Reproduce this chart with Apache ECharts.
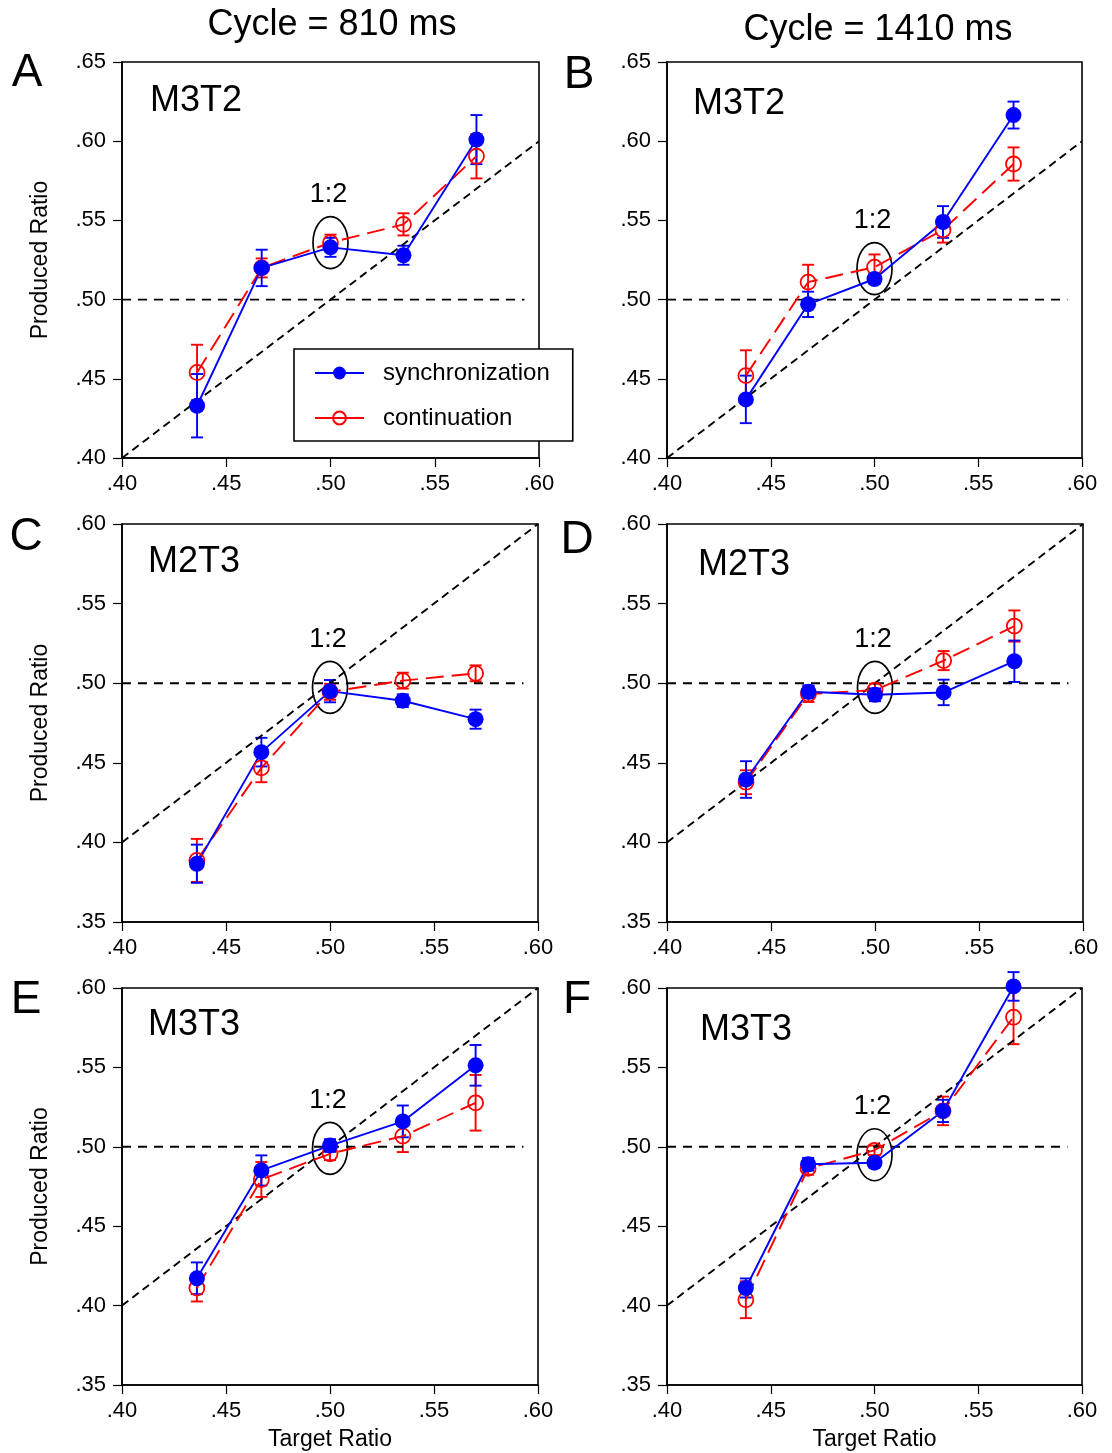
<!DOCTYPE html>
<html><head><meta charset="utf-8">
<script src="https://cdn.jsdelivr.net/npm/echarts@6/dist/echarts.min.js"></script>
<style>html,body{margin:0;padding:0;background:#fff}#c{width:1112px;height:1453px}</style>
</head><body><div id="c"></div>
<script>
const FONT = '"Liberation Sans", Arial, Helvetica, sans-serif';

// ---- data ----
const targetCol1 = [0.436, 0.467, 0.500, 0.535, 0.570];   // Cycle = 810 ms
const targetCol2 = [0.438, 0.468, 0.500, 0.533, 0.567];   // Cycle = 1410 ms
const columnTitles = ['Cycle = 810 ms', 'Cycle = 1410 ms'];
const panelLetters = ['A', 'B', 'C', 'D', 'E', 'F'];
const panelNames = ['M3T2', 'M3T2', 'M2T3', 'M2T3', 'M3T3', 'M3T3'];
const xTicks = [0.40, 0.45, 0.50, 0.55, 0.60];
const yRangeRow1 = [0.40, 0.65];
const yRangeRow23 = [0.35, 0.60];

const syncA = [0.433, 0.520, 0.533, 0.528, 0.601];
const syncAErr = [0.020, 0.0115, 0.006, 0.006, 0.0155];
const contA = [0.454, 0.520, 0.536, 0.5475, 0.5905];
const contAErr = [0.0175, 0.006, 0.005, 0.007, 0.014];

const syncB = [0.437, 0.497, 0.513, 0.549, 0.6165];
const syncBErr = [0.015, 0.008, 0.003, 0.010, 0.0085];
const contB = [0.452, 0.511, 0.5205, 0.544, 0.5856];
const contBErr = [0.016, 0.011, 0.008, 0.008, 0.0105];

const syncC = [0.3866, 0.4567, 0.495, 0.489, 0.4774];
const syncCErr = [0.012, 0.009, 0.007, 0.004, 0.006];
const contC = [0.3887, 0.4468, 0.4946, 0.5016, 0.5062];
const contCErr = [0.0135, 0.009, 0.005, 0.005, 0.005];

const syncD = [0.4395, 0.4946, 0.4927, 0.4942, 0.5138];
const syncDErr = [0.0115, 0.004, 0.004, 0.008, 0.013];
const contD = [0.4378, 0.4932, 0.4957, 0.5142, 0.5359];
const contDErr = [0.0075, 0.005, 0.004, 0.006, 0.0098];

const syncE = [0.4172, 0.4851, 0.5008, 0.516, 0.5513];
const syncEErr = [0.010, 0.0095, 0.004, 0.010, 0.0128];
const contE = [0.4111, 0.4794, 0.4956, 0.5067, 0.5277];
const contEErr = [0.0085, 0.011, 0.004, 0.010, 0.0175];

const syncF = [0.4111, 0.489, 0.490, 0.5226, 0.601];
const syncFErr = [0.006, 0.004, 0.003, 0.007, 0.009];
const contF = [0.4037, 0.4864, 0.4978, 0.5226, 0.5816];
const contFErr = [0.0116, 0.004, 0.003, 0.009, 0.017];

const oneToTwoY = [0.536, 0.5195, 0.4974, 0.4974, 0.499, 0.495]; // centre of "1:2" ellipse
const identityLine = [0.40, 0.60];
const chanceLevel = 0.50;
const chanceLineEnd = 0.593;

// ---- layout ----
const panels = [
  {x: targetCol1, s: syncA, se: syncAErr, c: contA, ce: contAErr, yr: yRangeRow1},
  {x: targetCol2, s: syncB, se: syncBErr, c: contB, ce: contBErr, yr: yRangeRow1},
  {x: targetCol1, s: syncC, se: syncCErr, c: contC, ce: contCErr, yr: yRangeRow23},
  {x: targetCol2, s: syncD, se: syncDErr, c: contD, ce: contDErr, yr: yRangeRow23},
  {x: targetCol1, s: syncE, se: syncEErr, c: contE, ce: contEErr, yr: yRangeRow23},
  {x: targetCol2, s: syncF, se: syncFErr, c: contF, ce: contFErr, yr: yRangeRow23}
];
const gridBoxes = [
  {left: 122, top: 62, width: 417, height: 396},
  {left: 667, top: 62, width: 415, height: 396},
  {left: 122, top: 524, width: 416, height: 398},
  {left: 667, top: 524, width: 416, height: 398},
  {left: 122, top: 988, width: 416, height: 397},
  {left: 667, top: 988, width: 415, height: 397}
];
const letterPos = [[27, 73], [579, 75], [26, 537], [577, 540], [26, 1000], [577, 1000]];
const namePos = [[150, 101], [693, 104], [148, 562], [698, 565], [148, 1025], [700, 1030]];
const titlePos = [[332, 25], [878, 30]];

const fmt = v => v.toFixed(2).replace(/^0/, '');

const grids = [], xAxes = [], yAxes = [], series = [], graphics = [];

function errRender(color) {
  return function (params, api) {
    const x = api.value(0), lo = api.value(1), hi = api.value(2);
    const p1 = api.coord([x, lo]), p2 = api.coord([x, hi]);
    const w = 6;
    const st = {stroke: color, lineWidth: 1.9};
    return {type: 'group', children: [
      {type: 'line', shape: {x1: p1[0], y1: p1[1], x2: p2[0], y2: p2[1]}, style: st},
      {type: 'line', shape: {x1: p1[0] - w, y1: p1[1], x2: p1[0] + w, y2: p1[1]}, style: st},
      {type: 'line', shape: {x1: p2[0] - w, y1: p2[1], x2: p2[0] + w, y2: p2[1]}, style: st}
    ]};
  };
}

panels.forEach((p, i) => {
  grids.push(Object.assign({show: true, borderColor: '#000', borderWidth: 1.6, backgroundColor: '#fff'}, gridBoxes[i]));
  xAxes.push({
    type: 'value', gridIndex: i, min: 0.40, max: 0.60, interval: 0.05,
    axisLine: {show: true, lineStyle: {color: '#000', width: 1.6}},
    axisTick: {show: true, length: 9, lineStyle: {color: '#000', width: 1.2}},
    axisLabel: {formatter: fmt, color: '#000', fontSize: 22, fontFamily: FONT, margin: 15},
    splitLine: {show: false},
    name: i >= 4 ? 'Target Ratio' : '', nameLocation: 'middle', nameGap: 43,
    nameTextStyle: {color: '#000', fontSize: 23, fontFamily: FONT}
  });
  yAxes.push({
    type: 'value', gridIndex: i, min: p.yr[0], max: p.yr[1], interval: 0.05,
    axisLine: {show: true, lineStyle: {color: '#000', width: 1.6}},
    axisTick: {show: true, length: 9, lineStyle: {color: '#000', width: 1.2}},
    axisLabel: {formatter: fmt, color: '#000', fontSize: 22, fontFamily: FONT, margin: 16},
    splitLine: {show: false},
    name: i % 2 === 0 ? 'Produced Ratio' : '', nameLocation: 'middle', nameGap: 70, nameRotate: 90,
    nameTextStyle: {color: '#000', fontSize: 23, fontFamily: FONT}
  });
  const base = {xAxisIndex: i, yAxisIndex: i, animation: false};
  series.push(Object.assign({
    type: 'line', silent: true, symbol: 'none',
    data: [[identityLine[0], identityLine[0]], [identityLine[1], identityLine[1]]],
    lineStyle: {color: '#000', width: 1.9, type: [8, 5]}
  }, base));
  series.push(Object.assign({
    type: 'line', silent: true, symbol: 'none',
    data: [[identityLine[0], chanceLevel], [chanceLineEnd, chanceLevel]],
    lineStyle: {color: '#000', width: 1.9, type: [9, 7]}
  }, base));
  series.push(Object.assign({
    type: 'custom', silent: true, clip: false,
    data: [[0.50, oneToTwoY[i]]],
    renderItem: function (params, api) {
      const c = api.coord([api.value(0), api.value(1)]);
      return {type: 'group', children: [
        {type: 'ellipse', shape: {cx: c[0], cy: c[1], rx: 17.5, ry: 26}, style: {fill: 'none', stroke: '#000', lineWidth: 1.7}},
        {type: 'text', x: c[0] - 2, y: c[1] - 48, style: {text: '1:2', fill: '#000', font: '27px ' + FONT, textAlign: 'center', textVerticalAlign: 'middle'}}
      ]};
    }
  }, base));
  series.push(Object.assign({
    type: 'line', name: 'continuation', clip: false,
    data: p.x.map((x, k) => [x, p.c[k]]),
    symbol: 'circle', symbolSize: 15,
    lineStyle: {color: '#ff0000', width: 1.9, type: [18, 8]},
    itemStyle: {color: 'rgba(255,255,255,0)', borderColor: '#ff0000', borderWidth: 1.8}
  }, base));
  series.push(Object.assign({
    type: 'custom', clip: false, silent: true,
    data: p.x.map((x, k) => [x, p.c[k] - p.ce[k], p.c[k] + p.ce[k]]),
    renderItem: errRender('#ff0000')
  }, base));
  series.push(Object.assign({
    type: 'line', name: 'synchronization', clip: false,
    data: p.x.map((x, k) => [x, p.s[k]]),
    symbol: 'circle', symbolSize: 16,
    lineStyle: {color: '#0000ff', width: 1.9},
    itemStyle: {color: '#0000ff'}
  }, base));
  series.push(Object.assign({
    type: 'custom', clip: false, silent: true,
    data: p.x.map((x, k) => [x, p.s[k] - p.se[k], p.s[k] + p.se[k]]),
    renderItem: errRender('#0000ff')
  }, base));

  graphics.push({type: 'text', x: letterPos[i][0], y: letterPos[i][1],
    style: {text: panelLetters[i], fill: '#000', font: '46px ' + FONT, textAlign: 'center', textVerticalAlign: 'middle'}});
  graphics.push({type: 'text', x: namePos[i][0], y: namePos[i][1], z: 10,
    style: {text: panelNames[i], fill: '#000', font: '36px ' + FONT, textAlign: 'left', textVerticalAlign: 'middle'}});
});
columnTitles.forEach((t, j) => {
  graphics.push({type: 'text', x: titlePos[j][0], y: titlePos[j][1],
    style: {text: t, fill: '#000', font: '36px ' + FONT, textAlign: 'center', textVerticalAlign: 'middle'}});
});

const chart = echarts.init(document.getElementById('c'), null, {renderer: 'canvas'});
chart.setOption({
  animation: false,
  backgroundColor: '#fff',
  grid: grids, xAxis: xAxes, yAxis: yAxes, series: series, graphic: graphics,
  legend: {
    left: 294, top: 349, orient: 'vertical', z: 20,
    backgroundColor: '#fff', borderColor: '#000', borderWidth: 1.6,
    padding: [11, 23, 10, 20], itemGap: 19, itemWidth: 49, itemHeight: 16,
    selectedMode: false,
    textStyle: {color: '#000', fontSize: 24, fontFamily: FONT, padding: [0, 0, 0, 14], lineHeight: 26},
    data: [
      {name: 'synchronization'},
      {name: 'continuation', lineStyle: {type: 'solid', color: '#ff0000', width: 1.9}}
    ]
  }
});
</script></body></html>
